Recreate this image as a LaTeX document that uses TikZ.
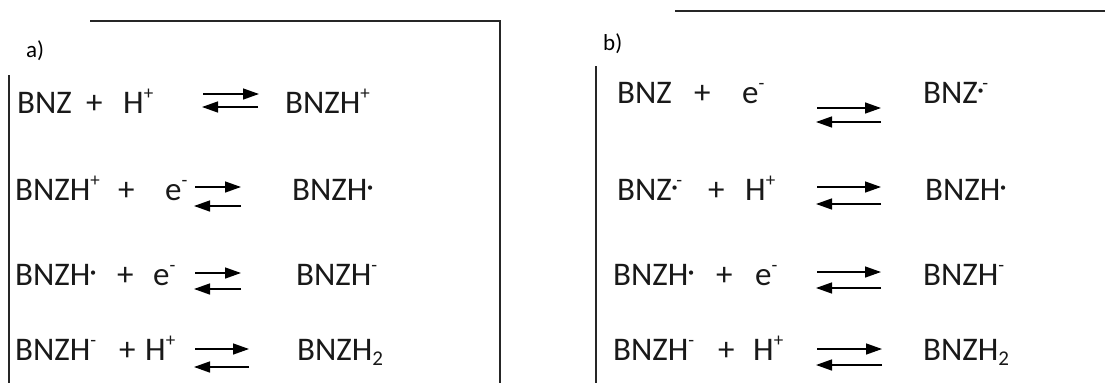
\documentclass[tikz,border=0pt]{standalone}
\usepackage{fontspec}
\setmainfont{Carlito}
\usetikzlibrary{arrows.meta}
\newcommand\sps[1]{\raisebox{0.42em}{\fontsize{19}{20}\selectfont #1}}
\newcommand\sbs[1]{\raisebox{-0.18em}{\fontsize{21}{22}\selectfont #1}}
\newcommand\rdot{\kern-1pt\raisebox{4pt}{\fontsize{30}{30}\selectfont\char"00B7}\kern-2pt}
\tikzset{
  txt/.style={anchor=base west, inner sep=0pt, font=\fontsize{33}{40}\selectfont, text=black!90},
  lbl/.style={anchor=base west, inner sep=0pt, font=\fontsize{23}{26}\selectfont},
  frame/.style={line width=1.5pt, draw=black!85},
  fwd/.style={line width=1.4pt, -{Triangle[length=16pt,width=11pt]}},
}
\begin{document}
\begin{tikzpicture}[x=1pt,y=-1pt]
\useasboundingbox (0,0) rectangle (1105,383);
% frames
\coordinate (aTL) at (90,21);
\coordinate (aTR) at (500,21);
\coordinate (aBR) at (500,383);
\coordinate (aLT) at (9,75);
\coordinate (aLB) at (9,383);
\draw[frame] (aTL) -- (aTR) -- (aBR);
\draw[frame] (aLT) -- (aLB);
\coordinate (bTL) at (675,11);
\coordinate (bTR) at (1105,11);
\coordinate (bLT) at (596,66);
\coordinate (bLB) at (596,383);
\draw[frame] (bTL) -- (bTR);
\draw[frame] (bLT) -- (bLB);
% labels
\node[lbl] (la) at (26,57) {a)};
\node[lbl] (lb) at (603,50) {b)};
% ---------- panel a ----------
% row 1
\node[txt] (a1a) at (17,113) {BNZ};
\node[txt] (a1p) at (86,113) {+};
\node[txt] (a1b) at (123,113) {H\sps{+}};
\node[txt] (a1c) at (285,113) {BNZH\sps{+}};
\coordinate (a1f1) at (203,94); \coordinate (a1f2) at (259,94);
\coordinate (a1r1) at (258,107); \coordinate (a1r2) at (202,107);
\draw[fwd] (a1f1) -- (a1f2); \draw[fwd] (a1r1) -- (a1r2);
% row 2
\node[txt] (a2a) at (15,200) {BNZH\sps{+}};
\node[txt] (a2p) at (118,200) {+};
\node[txt] (a2b) at (165,200) {e\sps{-}};
\node[txt] (a2c) at (292,200) {BNZH\rdot};
\coordinate (a2f1) at (195,187); \coordinate (a2f2) at (241,187);
\coordinate (a2r1) at (241,206); \coordinate (a2r2) at (194,206);
\draw[fwd] (a2f1) -- (a2f2); \draw[fwd] (a2r1) -- (a2r2);
% row 3
\node[txt] (a3a) at (15,285) {BNZH\rdot};
\node[txt] (a3p) at (117,285) {+};
\node[txt] (a3b) at (153,285) {e\sps{-}};
\node[txt] (a3c) at (296,285) {BNZH\sps{-}};
\coordinate (a3f1) at (195,273); \coordinate (a3f2) at (241,273);
\coordinate (a3r1) at (241,289); \coordinate (a3r2) at (194,289);
\draw[fwd] (a3f1) -- (a3f2); \draw[fwd] (a3r1) -- (a3r2);
% row 4
\node[txt] (a4a) at (15,360) {BNZH\sps{-}};
\node[txt] (a4p) at (119,360) {+};
\node[txt] (a4b) at (145,360) {H\sps{+}};
\node[txt] (a4c) at (297,360) {BNZH\sbs{2}};
\coordinate (a4f1) at (195,349); \coordinate (a4f2) at (249,349);
\coordinate (a4r1) at (249,367); \coordinate (a4r2) at (194,367);
\draw[fwd] (a4f1) -- (a4f2); \draw[fwd] (a4r1) -- (a4r2);
% ---------- panel b ----------
% row 1
\node[txt] (b1a) at (617,103) {BNZ};
\node[txt] (b1p) at (694,103) {+};
\node[txt] (b1b) at (742,103) {e\sps{-}};
\node[txt] (b1c) at (923,103) {BNZ\rdot\sps{-}};
\coordinate (b1f1) at (817,108); \coordinate (b1f2) at (881,108);
\coordinate (b1r1) at (881,122); \coordinate (b1r2) at (816,122);
\draw[fwd] (b1f1) -- (b1f2); \draw[fwd] (b1r1) -- (b1r2);
% row 2
\node[txt] (b2a) at (617,200) {BNZ\rdot\sps{-}};
\node[txt] (b2p) at (708,200) {+};
\node[txt] (b2b) at (745,200) {H\sps{+}};
\node[txt] (b2c) at (925,200) {BNZH\rdot};
\coordinate (b2f1) at (817,187); \coordinate (b2f2) at (881,187);
\coordinate (b2r1) at (881,204); \coordinate (b2r2) at (816,204);
\draw[fwd] (b2f1) -- (b2f2); \draw[fwd] (b2r1) -- (b2r2);
% row 3
\node[txt] (b3a) at (613,285) {BNZH\rdot};
\node[txt] (b3p) at (716,285) {+};
\node[txt] (b3b) at (755,285) {e\sps{-}};
\node[txt] (b3c) at (923,285) {BNZH\sps{-}};
\coordinate (b3f1) at (817,272); \coordinate (b3f2) at (881,272);
\coordinate (b3r1) at (881,288); \coordinate (b3r2) at (816,288);
\draw[fwd] (b3f1) -- (b3f2); \draw[fwd] (b3r1) -- (b3r2);
% row 4
\node[txt] (b4a) at (613,360) {BNZH\sps{-}};
\node[txt] (b4p) at (718,360) {+};
\node[txt] (b4b) at (753,360) {H\sps{+}};
\node[txt] (b4c) at (923,360) {BNZH\sbs{2}};
\coordinate (b4f1) at (817,349); \coordinate (b4f2) at (882,349);
\coordinate (b4r1) at (882,365); \coordinate (b4r2) at (816,365);
\draw[fwd] (b4f1) -- (b4f2); \draw[fwd] (b4r1) -- (b4r2);
\end{tikzpicture}
\end{document}
